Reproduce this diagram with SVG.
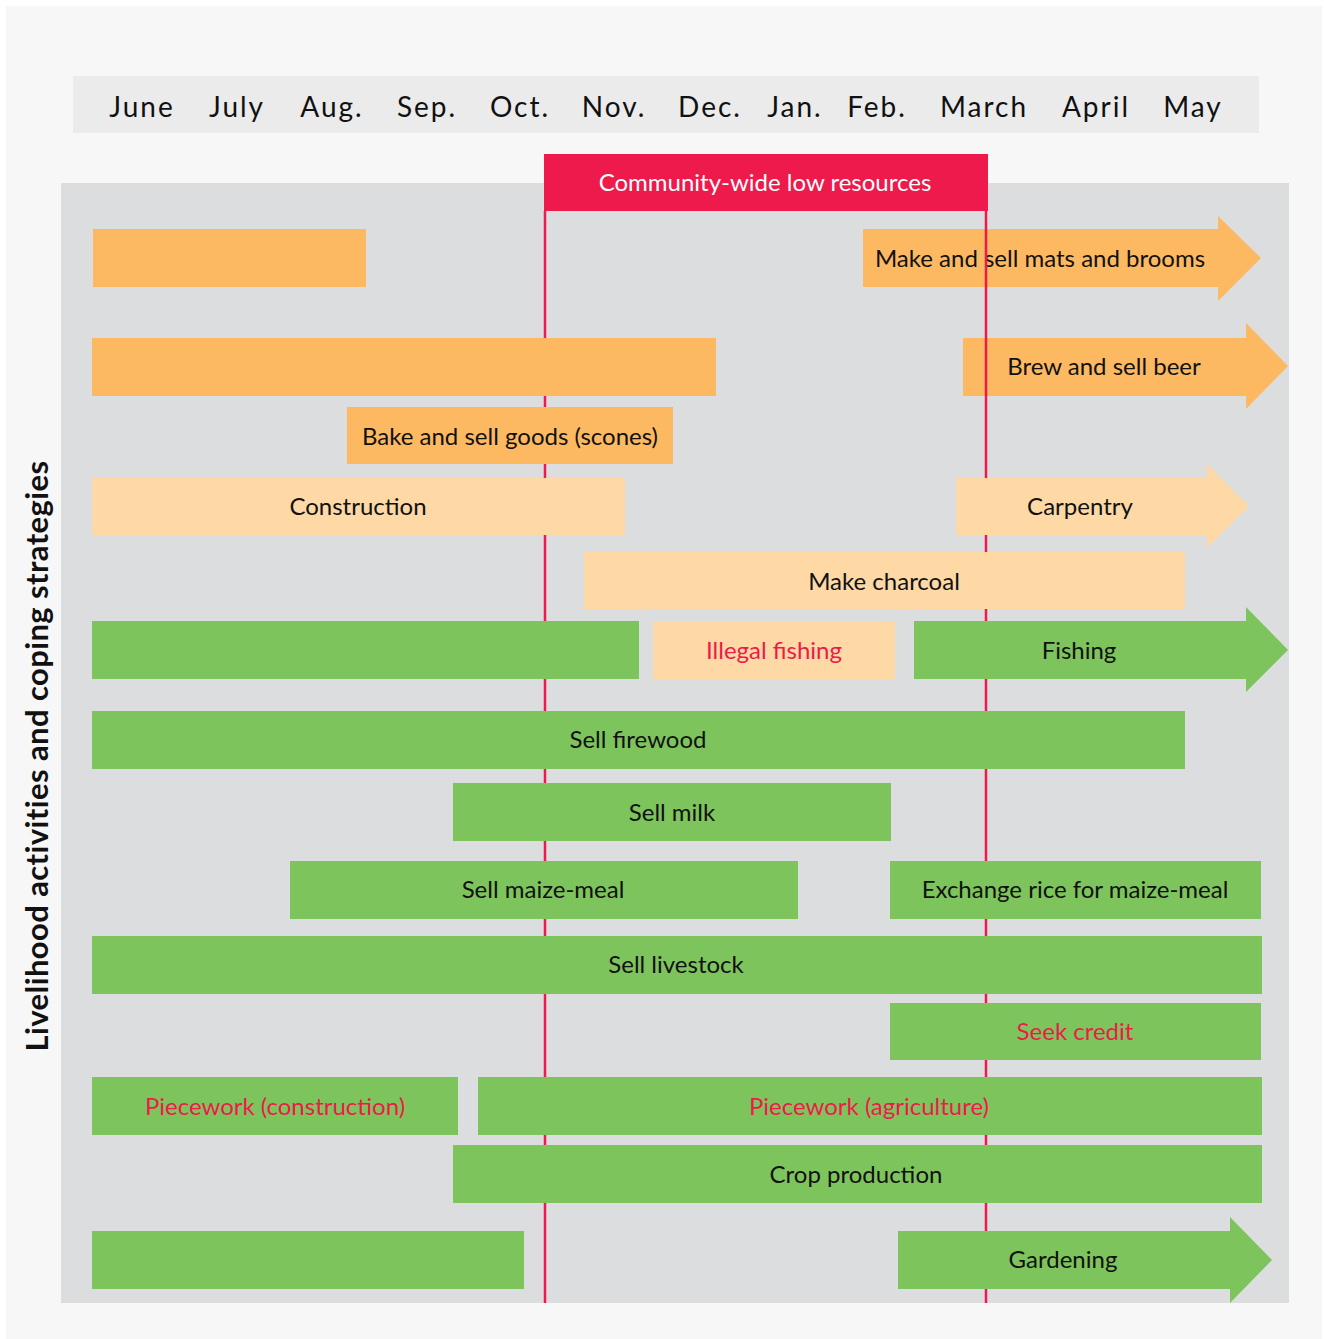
<svg xmlns="http://www.w3.org/2000/svg" width="1324" height="1339" viewBox="0 0 1324 1339">
<style>
.lbl{font-family:Lato,"Liberation Sans",sans-serif;font-size:24px;fill:#111;text-anchor:middle;dominant-baseline:central;transform:translateY(-1.5px)}
.red{fill:#ed1a4b}
.mon{font-family:Lato,"Liberation Sans",sans-serif;font-size:28px;fill:#111;text-anchor:middle;letter-spacing:2px;dominant-baseline:central}
.o{fill:#fdb962}
.l{fill:#fed9a6}
.g{fill:#7dc45d}
.line{stroke:#ed1a4b;stroke-width:2.5}
</style>
<rect x="0" y="0" width="1324" height="1339" fill="#ffffff"/>
<rect x="6" y="6" width="1316" height="1333" fill="#f7f7f7"/>
<g id="months">
<rect x="73" y="76" width="1186" height="57" fill="#ebebeb"/>
<text class="mon" x="142" y="106">June</text>
<text class="mon" x="237" y="106">July</text>
<text class="mon" x="332" y="106">Aug.</text>
<text class="mon" x="427" y="106">Sep.</text>
<text class="mon" x="520" y="106">Oct.</text>
<text class="mon" x="614" y="106">Nov.</text>
<text class="mon" x="710" y="106">Dec.</text>
<text class="mon" x="795" y="106">Jan.</text>
<text class="mon" x="877" y="106">Feb.</text>
<text class="mon" x="984" y="106">March</text>
<text class="mon" x="1096" y="106">April</text>
<text class="mon" x="1193" y="106">May</text>
</g>
<rect id="panel" x="61" y="183" width="1228" height="1120" fill="#dcdddf"/>
<g id="low-resources">
<rect x="544" y="154" width="444" height="57" fill="#ed1a4b"/>
<text class="lbl" x="765" y="183" style="fill:#fff">Community-wide low resources</text>
</g>
<g id="connectors">
<line class="line" x1="545" y1="211" x2="545" y2="1303"/>
<line class="line" x1="986" y1="211" x2="986" y2="1303"/>
</g>
<text id="axis-title" transform="translate(36 756) rotate(-90)" style="font-family:Lato,'Liberation Sans',sans-serif;font-size:31px;font-weight:bold;letter-spacing:0.4px;fill:#111;text-anchor:middle;dominant-baseline:central">Livelihood activities and coping strategies</text>
<g id="row1">
<rect class="o" x="93" y="229" width="273" height="58"/>
<polygon class="o" points="863,229 1218,229 1218,216 1261,258 1218,301 1218,287 863,287"/>
<text class="lbl" x="1040" y="259">Make and sell mats and brooms</text>
</g>
<g id="row2">
<rect class="o" x="92" y="338" width="624" height="58"/>
<polygon class="o" points="963,338 1246,338 1246,323 1288,366 1246,409 1246,396 963,396"/>
<text class="lbl" x="1104" y="367">Brew and sell beer</text>
</g>
<line class="line" x1="986" y1="229" x2="986" y2="287"/>
<line class="line" x1="986" y1="338" x2="986" y2="396"/>
<g id="row3">
<rect class="o" x="347" y="407" width="326" height="57"/>
<text class="lbl" x="510" y="437">Bake and sell goods (scones)</text>
</g>
<g id="row4">
<rect class="l" x="92" y="478" width="533" height="57"/>
<text class="lbl" x="358" y="507">Construction</text>
<polygon class="l" points="956,478 1207,478 1207,464 1249,506 1207,548 1207,535 956,535"/>
<text class="lbl" x="1080" y="507">Carpentry</text>
</g>
<g id="row5">
<rect class="l" x="584" y="552" width="601" height="57"/>
<text class="lbl" x="884" y="582">Make charcoal</text>
</g>
<g id="row6">
<rect class="g" x="92" y="621" width="547" height="58"/>
<rect class="l" x="653" y="621" width="242" height="58"/>
<text class="lbl red" x="774" y="651">Illegal fishing</text>
<polygon class="g" points="914,621 1246,621 1246,607 1288,650 1246,692 1246,679 914,679"/>
<text class="lbl" x="1079" y="651">Fishing</text>
</g>
<g id="row7">
<rect class="g" x="92" y="711" width="1093" height="58"/>
<text class="lbl" x="638" y="740">Sell firewood</text>
</g>
<g id="row8">
<rect class="g" x="453" y="783" width="438" height="58"/>
<text class="lbl" x="672" y="813">Sell milk</text>
</g>
<g id="row9">
<rect class="g" x="290" y="861" width="508" height="58"/>
<text class="lbl" x="543" y="890">Sell maize-meal</text>
<rect class="g" x="890" y="861" width="371" height="58"/>
<text class="lbl" x="1075" y="890">Exchange rice for maize-meal</text>
</g>
<g id="row10">
<rect class="g" x="92" y="936" width="1170" height="58"/>
<text class="lbl" x="676" y="965">Sell livestock</text>
</g>
<g id="row11">
<rect class="g" x="890" y="1003" width="371" height="57"/>
<text class="lbl red" x="1075" y="1032">Seek credit</text>
</g>
<g id="row12">
<rect class="g" x="92" y="1077" width="366" height="58"/>
<text class="lbl red" x="275" y="1107">Piecework (construction)</text>
<rect class="g" x="478" y="1077" width="784" height="58"/>
<text class="lbl red" x="869" y="1107">Piecework (agriculture)</text>
</g>
<g id="row13">
<rect class="g" x="453" y="1145" width="809" height="58"/>
<text class="lbl" x="856" y="1175">Crop production</text>
</g>
<g id="row14">
<rect class="g" x="92" y="1231" width="432" height="58"/>
<polygon class="g" points="898,1231 1230,1231 1230,1217 1272,1260 1230,1303 1230,1289 898,1289"/>
<text class="lbl" x="1063" y="1260">Gardening</text>
</g>
</svg>
